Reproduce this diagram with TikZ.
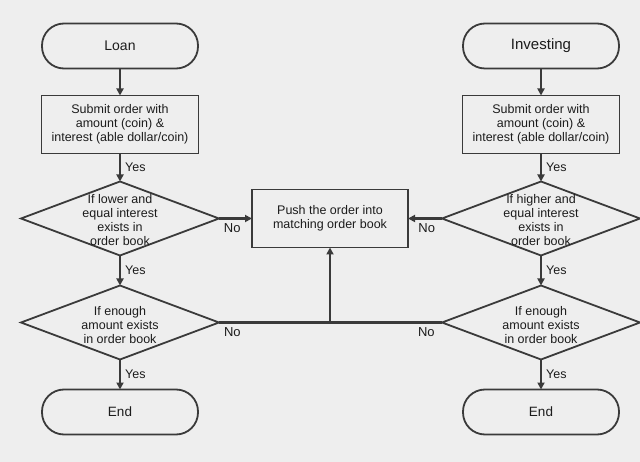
\documentclass[tikz,border=0pt]{standalone}
\usepackage{fontspec}
\setmainfont{Liberation Sans}
\usepackage{tikz}
\usetikzlibrary{shapes.geometric,arrows.meta,positioning,calc}
\definecolor{fcbg}{HTML}{EEEEEE}
\definecolor{fcline}{HTML}{3A3A3A}
\definecolor{fctext}{HTML}{1C1C1C}

\begin{document}
\begin{tikzpicture}[
    x=1pt,y=-1pt,
    term/.style={rectangle,rounded corners=22pt,draw=fcline,line width=1.8pt,outer sep=0pt,
                 minimum height=45pt,minimum width=156pt,align=center,
                 font=\fontsize{14}{16}\selectfont,text=fctext},
    proc/.style={rectangle,draw=fcline,line width=1.8pt,fill=fcbg,outer sep=0pt,
                 minimum height=58pt,minimum width=157pt,align=center,
                 font=\fontsize{12.5}{14}\selectfont,text=fctext,inner sep=1pt},
    decision/.style={diamond,draw=fcline,line width=1.8pt,inner sep=0pt,outer sep=0pt,
                     minimum width=198pt,minimum height=74pt},
    dtext/.style={align=center,font=\fontsize{12.5}{14}\selectfont,text=fctext,inner sep=0pt},
    arr/.style={-{Triangle[length=7pt,width=7pt]},line width=2.2pt,fcline},
    line/.style={line width=2.2pt,fcline},
    yes/.style={right=3pt,font=\fontsize{12.5}{14}\selectfont,text=fctext,inner sep=1pt},
    no/.style={below=3pt,font=\fontsize{13}{14}\selectfont,text=fctext,inner sep=1pt}
  ]
    \fill[fcbg] (0,0) rectangle (640,462);
    \useasboundingbox (0,0) rectangle (640,462);

    % Loan side
    \node[term] (loan) at (120,46) {Loan};
    \node[proc,below=27pt of loan] (subl) {Submit order with\\amount (coin) \&\\interest (able dollar/coin)};
    \node[decision,below=28pt of subl] (decl1) {};
    \node[dtext] (decl1t) at ($(decl1)+(0,1.5)$) {If lower and\\equal interest\\exists in\\order book};
    \node[decision,below=30pt of decl1] (decl2) {};
    \node[dtext] (decl2t) at ($(decl2)+(0,2.5)$) {If enough\\amount exists\\in order book};
    \node[term,below=30pt of decl2,font=\fontsize{13.5}{16}\selectfont] (endl) {End};

    % matching order book
    \node[proc,minimum width=156pt,right=33pt of decl1] (match) {Push the order into\\matching order book};

    % Investing side
    \node[decision,right=34pt of match] (decr1) {};
    \node[dtext] (decr1t) at ($(decr1)+(0,1.5)$) {If higher and\\equal interest\\exists in\\order book};
    \node[proc,above=28pt of decr1] (subr) {Submit order with\\amount (coin) \&\\interest (able dollar/coin)};
    \node[term,above=27pt of subr,font=\fontsize{15}{17}\selectfont] (invest) {Investing};
    \node[decision,below=30pt of decr1] (decr2) {};
    \node[dtext] (decr2t) at ($(decr2)+(0,2.5)$) {If enough\\amount exists\\in order book};
    \node[term,below=30pt of decr2,font=\fontsize{13.5}{16}\selectfont] (endr) {End};

    \draw[arr] (loan) -- (subl);
    \draw[arr] (subl) -- node[yes] (yesl1) {Yes} (decl1);
    \draw[arr] (decl1) -- node[yes] (yesl2) {Yes} (decl2);
    \draw[arr] (decl2) -- node[yes] (yesl3) {Yes} (endl);

    \draw[arr] (invest) -- (subr);
    \draw[arr] (subr) -- node[yes] (yesr1) {Yes} (decr1);
    \draw[arr] (decr1) -- node[yes] (yesr2) {Yes} (decr2);
    \draw[arr] (decr2) -- node[yes] (yesr3) {Yes} (endr);

    \draw[arr] (decl1.east) -- node[no,pos=0.4] (nol1) {No} (match.west);
    \draw[arr] (decr1.west) -- node[no,pos=0.45] (nor1) {No} (match.east);

    % both "not enough" exits join below the middle box
    \coordinate (join) at (match.south |- decl2.east);
    \draw[line] (decl2.east) -- node[no,pos=0.12] (nol2) {No} (join)
                -- node[no,pos=0.86] (nor2) {No} (decr2.west);
    \draw[arr] (join) -- (match.south);
  \end{tikzpicture}
\end{document}
